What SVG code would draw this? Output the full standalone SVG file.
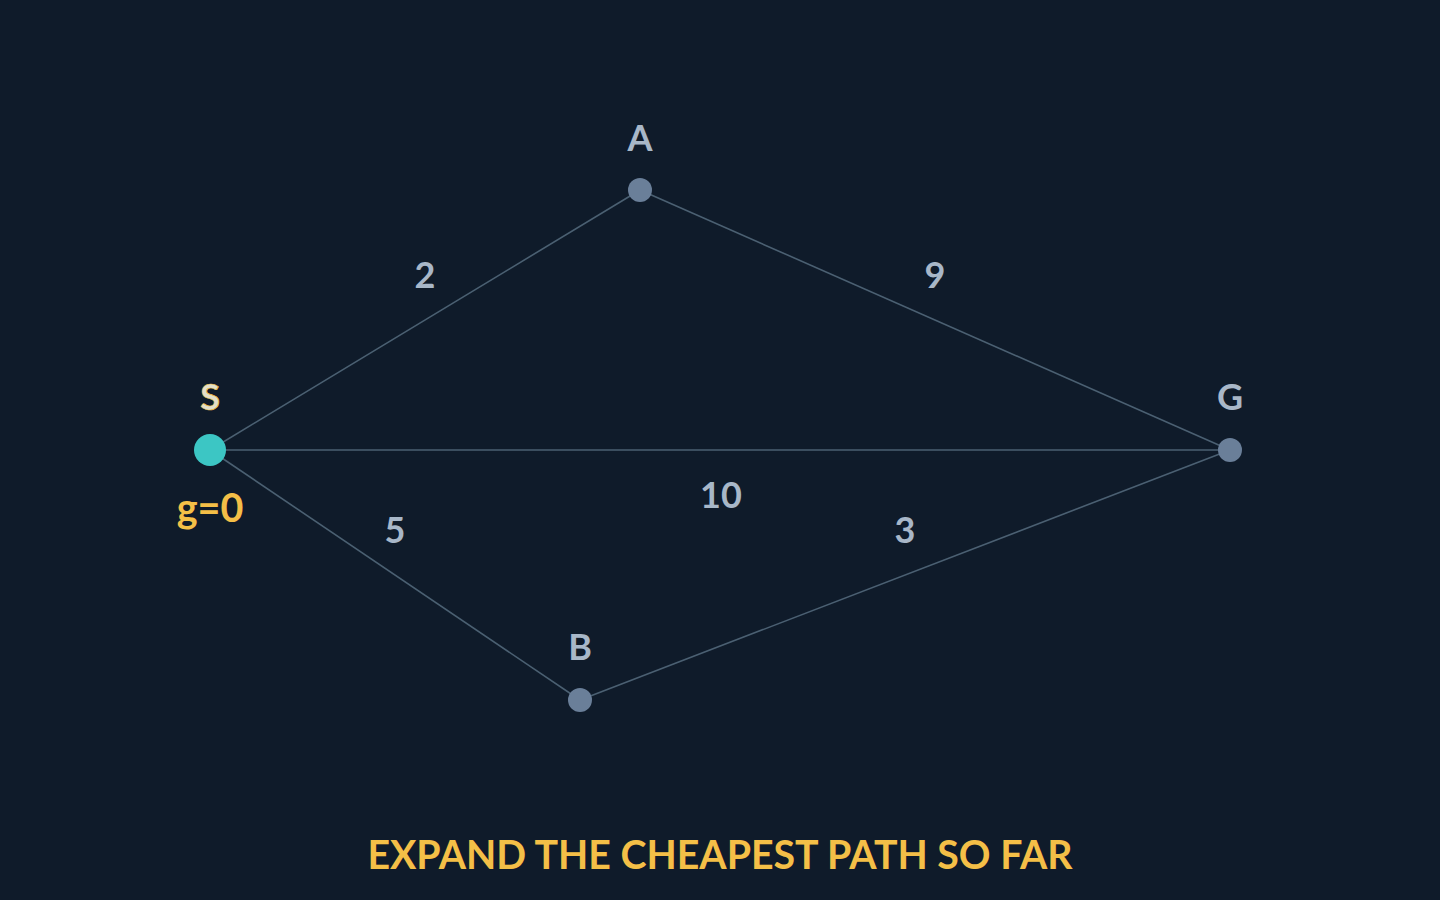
<svg xmlns="http://www.w3.org/2000/svg" width="1440" height="900" viewBox="0 0 1440 900">
<style>
text{font-family:Lato,"Noto Sans",sans-serif;font-weight:bold;text-anchor:middle}
.lbl{fill:#a8b7c8;font-size:36px}
.node{fill:#6a7f99}
.edge{stroke:#4b6072;stroke-width:1.6;fill:none}
</style>
<rect width="1440" height="900" fill="#0f1b2a"/>
<g id="connectors">
<line class="edge" x1="210" y1="450" x2="640" y2="190"/>
<line class="edge" x1="640" y1="190" x2="1230" y2="450"/>
<line class="edge" x1="210" y1="450" x2="1230" y2="450"/>
<line class="edge" x1="210" y1="450" x2="580" y2="700"/>
<line class="edge" x1="580" y1="700" x2="1230" y2="450"/>
<text class="lbl" x="425" y="288">2</text>
<text class="lbl" x="935" y="288">9</text>
<text class="lbl" x="721" y="508">10</text>
<text class="lbl" x="395" y="543">5</text>
<text class="lbl" x="905" y="543">3</text>
</g>
<g id="node-S">
<circle cx="210" cy="450" r="16" fill="#3cc6c4"/>
<text x="210" y="410" font-size="36" fill="#e2e0cc" stroke="#f0c24c" stroke-width="0.7">S</text>
<text x="210" y="522" font-size="39.5" fill="#f4bf47">g=0</text>
</g>
<g id="node-A">
<circle class="node" cx="640" cy="190" r="12"/>
<text class="lbl" x="640" y="151">A</text>
</g>
<g id="node-G">
<circle class="node" cx="1230" cy="450" r="12"/>
<text class="lbl" x="1230" y="410">G</text>
</g>
<g id="node-B">
<circle class="node" cx="580" cy="700" r="12"/>
<text class="lbl" x="580" y="660">B</text>
</g>
<text x="720" y="869" font-size="39.3" fill="#f4bf47">EXPAND THE CHEAPEST PATH SO FAR</text>
</svg>
